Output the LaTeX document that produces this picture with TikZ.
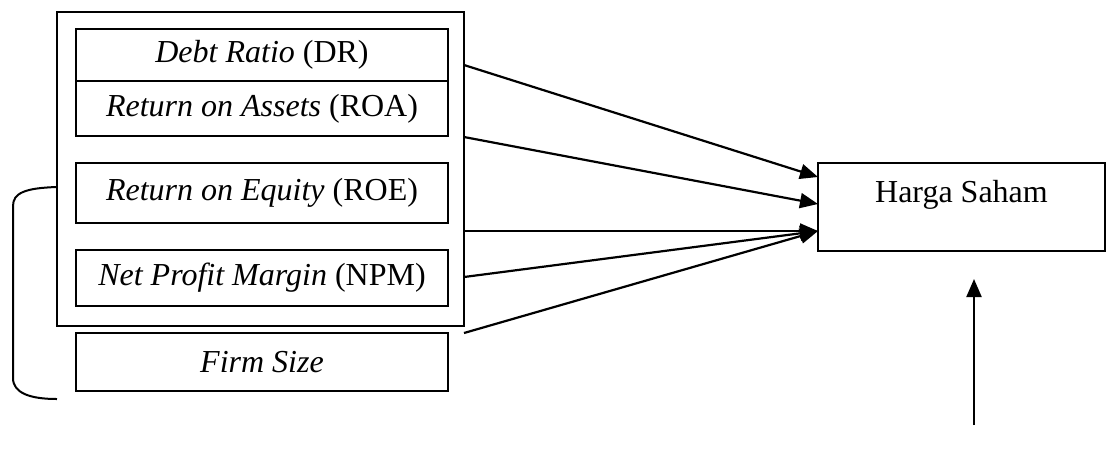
\documentclass[tikz,border=0pt]{standalone}
\usepackage{fontspec}
\setmainfont{Liberation Serif}
\usetikzlibrary{arrows.meta, positioning, calc}
\tikzstyle{var} = [rectangle, draw=black, line width=1pt, minimum width=186pt, inner sep=0pt, outer sep=0pt]
\tikzstyle{frame} = [rectangle, draw=black, line width=1pt, minimum width=203.5pt, minimum height=157pt, outer sep=0pt]
\tikzstyle{infl} = [line width=1.1pt, -{Triangle[length=9pt,width=7.5pt]}]
\tikzstyle{brace} = [line width=1pt]

\begin{document}
\begin{tikzpicture}[x=0.5pt,y=-0.5pt,node distance=13.5pt,font=\fontsize{16}{19}\selectfont]
      \useasboundingbox (0,0) rectangle (1106,473);
      \node (frame) [frame] at (260.5,169) {};

      \node (dr) [var, minimum height=26pt] at (262,55) {\textit{Debt Ratio} (DR)};
      \node (roa) [var, minimum height=27.5pt, below=0pt of dr] {\textit{Return on Assets} (ROA)};
      \node (roe) [var, minimum height=30pt, below=of roa] {\textit{Return on Equity} (ROE)};
      \node (npm) [var, minimum height=28pt, below=of roe] {\textit{Net Profit Margin} (NPM)};
      \node (firm) [var, minimum height=29pt, below=of npm] {\textit{Firm Size}};

      \node (harga) [var, minimum width=143.5pt, minimum height=44pt,
        label={[yshift=6pt]center:Harga Saham}] at (961.5,207) {};

      % start and end points on the frame and on the target box
      \coordinate (s1) at ($(frame.north east)+(0,53)$);
      \coordinate (s2) at ($(frame.north east)+(0,125)$);
      \coordinate (s3) at ($(frame.north east)+(0,219)$);
      \coordinate (s4) at ($(frame.north east)+(0,265)$);
      \coordinate (s5) at ($(frame.north east)+(0,321)$);
      \coordinate (t1) at ($(harga.north west)+(0,14)$);
      \coordinate (t2) at ($(harga.north west)+(0,41)$);
      \coordinate (t3) at ($(harga.north west)+(0,68)$);
      \coordinate (b1) at ($(frame.west)+(0,18)$);
      \coordinate (b2) at ($(frame.south west)+(0,73)$);
      \coordinate (u0) at (974,425);
      \coordinate (u1) at (974,279);

      \draw [infl] (s1) -- (t1);
      \draw [infl] (s2) -- (t2);
      \draw [infl] (s3) -- (t3);
      \draw [infl] (s4) -- (t3);
      \draw [infl] (s5) -- (t3);
      \draw [infl] (u0) -- (u1);
      \draw [brace] (b1) .. controls (25,188) and (13,193) .. (13,206) -- (13,378)
        .. controls (13,393) and (30,399) .. (b2);
    \end{tikzpicture}
\end{document}
